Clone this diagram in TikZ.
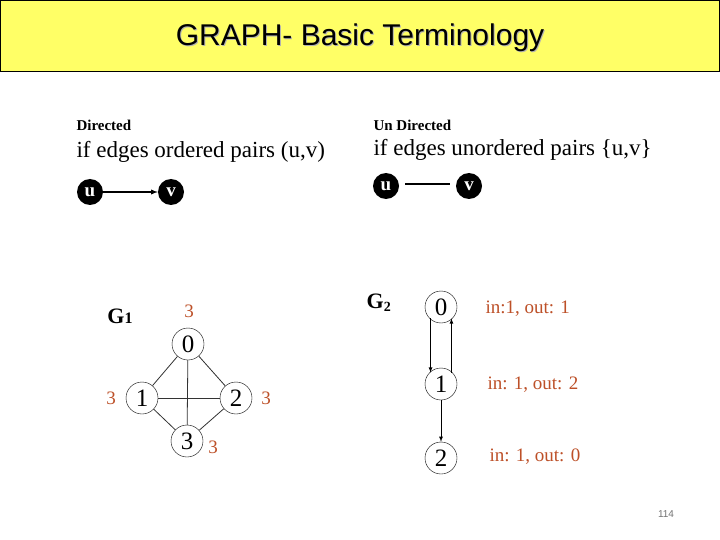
\documentclass[tikz,border=0pt]{standalone}
\usepackage{fontspec}
\setmainfont{Liberation Serif}
\newfontfamily\arialf{Liberation Sans}
\begin{document}
\begin{tikzpicture}[x=1pt,y=-1pt,
  bnode/.style={circle,fill=black,text=white,inner sep=0pt,minimum size=26pt,font=\bfseries\fontsize{19}{19}\selectfont},
  wnode/.style={circle,draw=black,inner sep=0pt,minimum size=32pt,font=\fontsize{25}{25}\selectfont},
  deg/.style={text=brown!70!red!90!black,font=\fontsize{19}{19}\selectfont},
  lbl/.style={anchor=west,text=brown!70!red!90!black,font=\fontsize{19}{19}\selectfont},
  edge/.style={draw=black!80,line width=0.8pt},
  arr/.style={draw=black,line width=0.8pt,-latex}]
\useasboundingbox (0,0) rectangle (720,540);
\fill[white] (0,0) rectangle (720,540);
\draw[fill={rgb,255:red,255;green,255;blue,102},line width=1pt] (0.5,0.5) rectangle (719.5,72) ;
\node[text=black!30,font=\arialf\fontsize{30}{30}\selectfont] (tsh) at (361,39) {GRAPH- Basic Terminology};
\node[font=\arialf\fontsize{30}{30}\selectfont] (title) at (360,38) {GRAPH- Basic Terminology};
% directed
\node[anchor=west,font=\bfseries\fontsize{15}{15}\selectfont] (d1) at (73,125) {Directed};
\node[anchor=west,font=\fontsize{23}{23}\selectfont] (d2) at (73,152) {if edges ordered pairs (u,v)};
\node[bnode] (du) at (90,192) {u};
\node[bnode] (dv) at (171,192) {v};
\draw[arr,line width=1.3pt] (du) -- (dv);
% undirected
\node[anchor=west,font=\bfseries\fontsize{15}{15}\selectfont] (u1) at (370,125) {Un Directed};
\node[anchor=west,font=\fontsize{23}{23}\selectfont] (u2) at (370,150) {if edges unordered pairs \{u,v\}};
\node[bnode] (uu) at (386,186) {u};
\node[bnode] (uv) at (469,186) {v};
\coordinate (ua) at (405,184);
\coordinate (ub) at (450,184);
\draw[line width=1.8pt] (ua) -- (ub);
% G1
\node[font=\bfseries\fontsize{22}{22}\selectfont] (g1) at (120,316) {G\fontsize{16}{16}\selectfont 1};
\node[wnode] (a0) at (188,344) {0};
\node[wnode] (a1) at (142,398) {1};
\node[wnode] (a2) at (236,398) {2};
\node[wnode] (a3) at (187,441) {3};
\foreach \s/\t in {a0/a1,a0/a2,a0/a3,a1/a2,a1/a3,a2/a3} \draw[edge] (\s) -- (\t);
\node[deg] (d0) at (189,311) {3};
\node[deg] (dd1) at (111,398) {3};
\node[deg] (dd2) at (266,398) {3};
\node[deg] (dd3) at (213,447) {3};
% G2
\node[font=\bfseries\fontsize{22}{22}\selectfont] (g2) at (379,303) {G\textsubscript{\fontsize{14}{14}\selectfont 2}};
\node[wnode] (b0) at (441,307) {0};
\node[wnode] (b1) at (441,384) {1};
\node[wnode] (b2) at (441,458) {2};
\draw[arr] (b0.south west) ++(1,0) coordinate (p1) -- (p1 |- b1.north west);
\draw[arr] (b1.north east) ++(-1,0) coordinate (p2) -- (p2 |- b0.south east);
\draw[arr] (b1) -- (b2);
\node[lbl] (l0) at (482,309) {in:1, out: 1};
\node[lbl] (l1) at (484,385) {in: 1, out: 2};
\node[lbl] (l2) at (486,457) {in: 1, out: 0};
\node[text=black!55,font=\arialf\fontsize{10}{10}\selectfont] (pg) at (666,514) {114};
\end{tikzpicture}
\end{document}
